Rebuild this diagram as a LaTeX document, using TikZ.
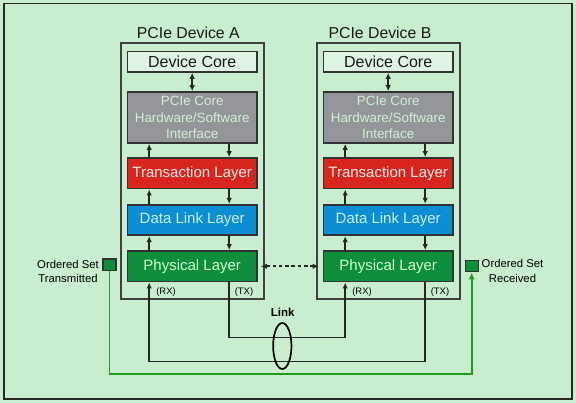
\documentclass[tikz,border=0pt]{standalone}
\usepackage{fontspec}
\setmainfont{Liberation Sans}
\usetikzlibrary{arrows.meta,shapes.geometric}
\definecolor{bgGreen}{HTML}{C9EDCF}
\definecolor{hwGray}{HTML}{939598}
\definecolor{tlRed}{HTML}{D8261F}
\definecolor{dllBlue}{HTML}{0B8ED4}
\definecolor{phyGreen}{HTML}{0C8E3B}
\definecolor{wireGreen}{HTML}{1E9E1E}
\begin{document}
\begin{tikzpicture}[x=1pt,y=-1pt,
    layer/.style={draw=black!80,line width=1.7pt,minimum width=129.5pt,inner sep=0pt,align=center},
    flow/.style={-{Latex[length=6pt,width=5.5pt]},line width=1.6pt,black!85},
    wire/.style={line width=1.6pt,black!85},
    osbox/.style={draw=black!80,fill=phyGreen,line width=1.1pt,minimum width=13pt,minimum height=11.5pt,inner sep=0pt}]
    \fill[bgGreen] (0,0) rectangle (576,403);
    \draw[black!85,line width=1.6pt] (4,3.5) rectangle (572,399);
    \foreach \d/\x/\tx in {A/0/188.3,B/196/380}{
        \draw[black!75,line width=1.7pt] (121+\x,43) rectangle (264+\x,299);
        \node[font=\fontsize{15.8}{18}\selectfont,text=black!90] (title\d) at (\tx,33) {PCIe Device \d};
        \node[layer,fill=white!40!bgGreen,minimum height=20.3pt,font=\fontsize{16}{18}\selectfont,text=black!90] (core\d) at (192.2+\x,61.8) {Device Core};
        \node[layer,fill=hwGray,text=bgGreen!85!white,minimum height=51pt,font=\fontsize{13.4}{16.3}\selectfont] (hw\d) at (192.2+\x,117.5) {PCIe Core\\Hardware/Software\\Interface};
        \node[layer,fill=tlRed,text=white!92!red,minimum height=30.7pt,font=\fontsize{15}{18}\selectfont] (tl\d) at (192.2+\x,173.3) {Transaction Layer};
        \node[layer,fill=dllBlue,text=white!80!cyan,minimum height=30.6pt,font=\fontsize{15}{18}\selectfont] (dll\d) at (192.2+\x,220) {Data Link Layer};
        \node[layer,fill=phyGreen,text=white!82!green,minimum height=30.7pt,font=\fontsize{15}{18}\selectfont] (phy\d) at (192.2+\x,266.3) {Physical Layer};
        \draw[flow,{Latex[length=6pt,width=5.5pt]}-{Latex[length=6pt,width=5.5pt]}] (core\d) -- (hw\d);
        \foreach \u/\l in {hw\d/tl\d,tl\d/dll\d,dll\d/phy\d}{
            \draw[flow] ([xshift=-43pt]\l.north) -- ([xshift=-43pt]\u.south);
            \draw[flow] ([xshift=37pt]\u.south) -- ([xshift=37pt]\l.north);
        }
        \node[font=\fontsize{9.4}{11}\selectfont] (rx\d) at (166+\x,291.7) {(RX)};
        \node[font=\fontsize{9.4}{11}\selectfont] (tx\d) at (244+\x,291.7) {(TX)};
    }
    % link between the two devices
    \draw[flow,{Latex[length=6pt,width=5.5pt]}-{Latex[length=6pt,width=5.5pt]},dash pattern=on 3.5pt off 2.8pt,shorten <=3pt,shorten >=4pt] (phyA.east) -- (phyB.west);
    \draw[flow] ([xshift=37pt]phyA.south) -- ++(0,55) -| ([xshift=-43pt]phyB.south);
    \draw[flow] ([xshift=37pt]phyB.south) -- ++(0,79) -| ([xshift=-43pt]phyA.south);
    \node[draw,ellipse,line width=1.7pt,minimum width=18.3pt,minimum height=46pt,inner sep=0pt] (linkRing) at (282.3,346) {};
    \node[font=\bfseries\fontsize{11.5}{13}\selectfont] (linkText) at (282.7,312.3) {Link};
    % ordered sets
    \node[osbox] (osTx) at (109.5,264.8) {};
    \node[osbox] (osRx) at (471.7,266) {};
    \node[font=\fontsize{11.3}{14.5}\selectfont,align=center] (osTxText) at (68,271.5) {Ordered Set\\Transmitted};
    \node[font=\fontsize{11.3}{14.5}\selectfont,align=center] (osRxText) at (512.5,271) {Ordered Set\\Received};
    \draw[line width=1.7pt,wireGreen,-{Latex[length=7pt,width=6pt]}] (osTx.south) -- ++(0,102.6) -| (osRx.south);
\end{tikzpicture}
\end{document}
